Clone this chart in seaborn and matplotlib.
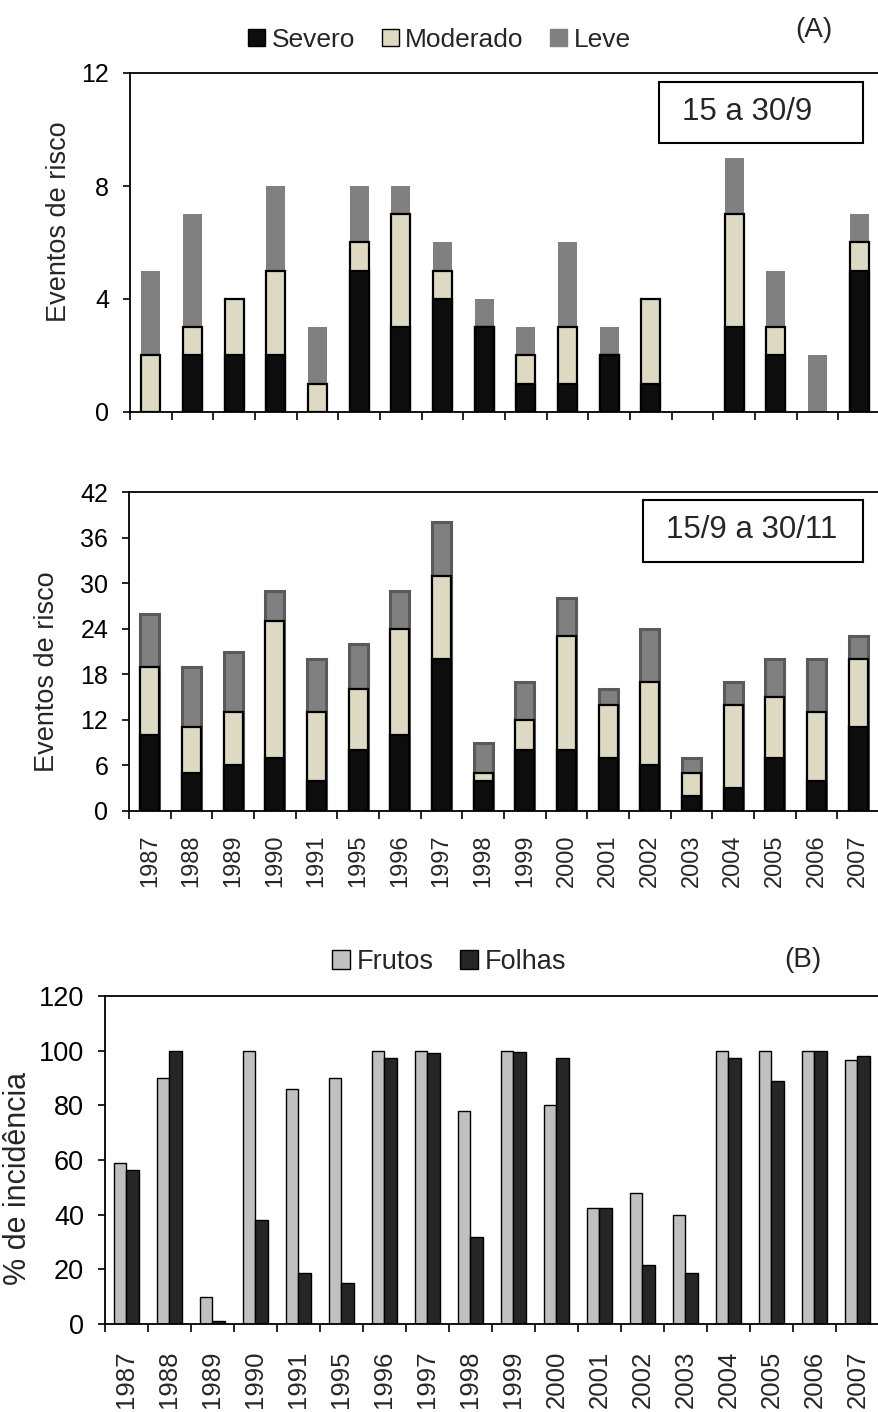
import numpy as np
import pandas as pd
import matplotlib
matplotlib.use("Agg")
import matplotlib.pyplot as plt
from matplotlib.patches import Patch, Rectangle
import seaborn as sns

# ---------------- data ----------------
years = ["1987", "1988", "1989", "1990", "1991", "1995", "1996", "1997", "1998",
         "1999", "2000", "2001", "2002", "2003", "2004", "2005", "2006", "2007"]

# (A) top: 15 a 30/9
sev_a = [0, 2, 2, 2, 0, 5, 3, 4, 3, 1, 1, 2, 1, 0, 3, 2, 0, 5]
mod_a = [2, 1, 2, 3, 1, 1, 4, 1, 0, 1, 2, 0, 3, 0, 4, 1, 0, 1]
lev_a = [3, 4, 0, 3, 2, 2, 1, 1, 1, 1, 3, 1, 0, 0, 2, 2, 2, 1]

# (A) middle: 15/9 a 30/11
sev_b = [10, 5, 6, 7, 4, 8, 10, 20, 4, 8, 8, 7, 6, 2, 3, 7, 4, 11]
mod_b = [9, 6, 7, 18, 9, 8, 14, 11, 1, 4, 15, 7, 11, 3, 11, 8, 9, 9]
lev_b = [7, 8, 8, 4, 7, 6, 5, 7, 4, 5, 5, 2, 7, 2, 3, 5, 7, 3]

# (B) bottom: % de incidencia
frutos = [59, 90, 10, 100, 86, 90, 100, 100, 78, 100, 80, 42.5, 48, 40, 100, 100, 100, 96.5]
folhas = [56.5, 100, 1, 38, 18.5, 15, 97.5, 99, 32, 99.5, 97.5, 42.5, 21.5, 18.5, 97.5, 89, 100, 98]

series_labels = ["Severo", "Moderado", "Leve"]
b_labels = ["Frutos", "Folhas"]

# ---------------- style ----------------
sns.set_style("ticks")
plt.rcParams["font.family"] = ["Liberation Sans", "DejaVu Sans"]
plt.rcParams["axes.linewidth"] = 1.2

C_SEV = "#0d0d0d"
C_MOD = "#ddd9c3"
C_LEV = "#808080"
C_FRU = "#c0c0c0"
C_FOL = "#262626"

fig = plt.figure(figsize=(8.79, 14.12), dpi=100)
W, H = 879.0, 1412.0


def ax_rect(left, top, right, bottom):
    return [left / W, 1 - bottom / H, (right - left) / W, (bottom - top) / H]


ax1 = fig.add_axes(ax_rect(130, 73, 880, 412))
ax2 = fig.add_axes(ax_rect(129, 492, 879, 811))
ax3 = fig.add_axes(ax_rect(105, 996, 879, 1324))


def stacked(ax, sev, mod, lev, lev_edge, lev_lw):
    sev = np.array(sev, float)
    mod = np.array(mod, float)
    lev = np.array(lev, float)
    tot = sev + mod + lev
    sm = sev + mod
    sns.barplot(x=years, y=tot, order=years, color=C_LEV, width=0.46,
                edgecolor=lev_edge, linewidth=lev_lw, saturation=1,
                errorbar=None, ax=ax)
    n0 = len(ax.patches)
    sns.barplot(x=years, y=sm, order=years, color=C_MOD, width=0.46,
                edgecolor="black", linewidth=1.6, saturation=1,
                errorbar=None, ax=ax)
    sns.barplot(x=years, y=sev, order=years, color=C_SEV, width=0.46,
                edgecolor="black", linewidth=1.6, saturation=1,
                errorbar=None, ax=ax)
    for p in ax.patches:
        if p.get_height() == 0:
            p.set_linewidth(0)
            p.set_visible(False)


stacked(ax1, sev_a, mod_a, lev_a, C_LEV, 0)
stacked(ax2, sev_b, mod_b, lev_b, "#5a5a5a", 2.2)

df = pd.DataFrame({
    "Ano": years * 2,
    "val": frutos + folhas,
    "Tipo": [b_labels[0]] * len(years) + [b_labels[1]] * len(years),
})
sns.barplot(data=df, x="Ano", y="val", hue="Tipo", order=years,
            hue_order=b_labels, palette={"Frutos": C_FRU, "Folhas": C_FOL},
            width=0.6, edgecolor="black", linewidth=1.0, saturation=1,
            errorbar=None, legend=False, ax=ax3)

n = len(years)
for ax, ylim, yt, lblsize in [(ax1, 12, np.arange(0, 13, 4), 18),
                              (ax2, 42, np.arange(0, 43, 6), 18),
                              (ax3, 120, np.arange(0, 121, 20), 19.5)]:
    ax.set_xlim(-0.5, n - 0.5)
    ax.set_ylim(0, ylim)
    ax.set_yticks(yt)
    ax.set_xticks(np.arange(n))
    ax.set_xticks(np.arange(-0.5, n, 1), minor=True)
    ax.tick_params(axis="x", which="minor", direction="out", length=6,
                   width=1.2, color="black")
    ax.tick_params(axis="x", which="major", length=0)
    ax.tick_params(axis="y", which="major", direction="out", length=5,
                   width=1.2, labelsize=lblsize, pad=10, colors="black")
    for s in ["left", "top", "bottom"]:
        ax.spines[s].set_visible(True)
        ax.spines[s].set_color("black")
        ax.spines[s].set_linewidth(1.3)
    ax.spines["right"].set_visible(False)
    ax.set_xlabel("")
    ax.grid(False)

ax1.set_xticklabels([])
ax2.set_xticklabels(years, rotation=90, fontsize=17)
ax2.tick_params(axis="x", which="major", pad=17)
ax3.set_xticklabels(years, rotation=90, fontsize=18.5)
ax3.tick_params(axis="x", which="major", pad=19)

ax1.set_ylabel("Eventos de risco", fontsize=19.5)
ax1.yaxis.set_label_coords(-0.077, 0.56)
ax2.set_ylabel("Eventos de risco", fontsize=19.5)
ax2.yaxis.set_label_coords(-0.092, 0.436)
ax3.set_ylabel("% de incidência", fontsize=22)
ax3.yaxis.set_label_coords(-0.093, 0.445)

# inset boxes
for ax, (x0, y0, x1, y1), txt, (tx, ty) in [
    (ax1, (0.7053, 0.7935, 0.9773, 0.9735), "15 a 30/9", (0.8233, 0.885)),
    (ax2, (0.6853, 0.7806, 0.9787, 0.975), "15/9 a 30/11", (0.83, 0.881)),
]:
    ax.add_patch(Rectangle((x0, y0), x1 - x0, y1 - y0, transform=ax.transAxes,
                           fill=False, edgecolor="black", linewidth=1.5,
                           zorder=5, clip_on=False))
    ax.text(tx, ty, txt, transform=ax.transAxes, ha="center", va="center",
            fontsize=22.5, zorder=6)

# legends
h_a = [Patch(facecolor=C_SEV, edgecolor="black", linewidth=1),
       Patch(facecolor=C_MOD, edgecolor="black", linewidth=1),
       Patch(facecolor=C_LEV, edgecolor=C_LEV, linewidth=1)]
fig.legend(h_a, series_labels, loc="center", bbox_to_anchor=(0.5, 0.9717),
           ncol=3, frameon=False, fontsize=19, handlelength=0.65,
           handleheight=0.65, handletextpad=0.25, columnspacing=1.0)
h_b = [Patch(facecolor=C_FRU, edgecolor="black", linewidth=1),
       Patch(facecolor=C_FOL, edgecolor="black", linewidth=1)]
fig.legend(h_b, b_labels, loc="center", bbox_to_anchor=(0.511, 0.3187),
           ncol=2, frameon=False, fontsize=19.5, handlelength=0.65,
           handleheight=0.65, handletextpad=0.25, columnspacing=1.0)

fig.text(0.926, 0.979, "(A)", ha="center", va="center", fontsize=20)
fig.text(0.913, 0.320, "(B)", ha="center", va="center", fontsize=20)

fig.savefig("out.png", dpi=100)
